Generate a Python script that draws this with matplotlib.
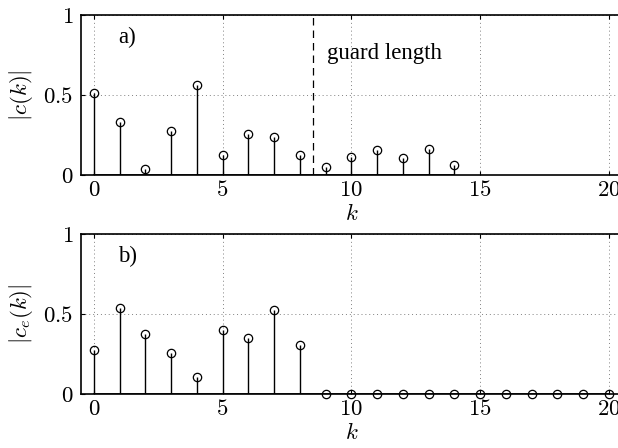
import matplotlib
matplotlib.use("Agg")
import matplotlib.pyplot as plt
import numpy as np

plt.rcParams['mathtext.fontset'] = 'cm'
plt.rcParams['font.family'] = ['Liberation Serif', 'DejaVu Serif']

k_top = list(range(0, 15))
c_top = [0.51, 0.33, 0.04, 0.276, 0.56, 0.126, 0.257, 0.24, 0.127,
         0.054, 0.115, 0.157, 0.109, 0.165, 0.063]
k_bot = list(range(0, 21))
c_bot = [0.274, 0.537, 0.374, 0.259, 0.105, 0.401, 0.347, 0.525, 0.305] + [0.0] * 12
guard = 8.5
xticks = [0, 5, 10, 15, 20]
yticks = [0, 0.5, 1]
ytick_labels = ['$0$', '$0.5$', '$1$']

FS = 16.5

fig = plt.figure(figsize=(6.18, 4.48), dpi=100)
ax1 = fig.add_axes([0.131, 0.609, 0.875, 0.3575])
ax2 = fig.add_axes([0.131, 0.1205, 0.875, 0.3575])

def style(ax, ylabel, tag):
    ax.set_xlim(-0.5, 20.5)
    ax.set_ylim(0, 1)
    ax.set_xticks(xticks)
    ax.set_xticklabels([f'${t}$' for t in xticks])
    ax.set_yticks(yticks)
    ax.set_yticklabels(ytick_labels)
    ax.tick_params(labelsize=FS, direction='in', length=3, width=0.8, top=True, right=True)
    ax.tick_params(axis='x', pad=3.5)
    ax.tick_params(axis='y', pad=5.5)
    ax.grid(True, linestyle=(0, (1, 3)), color='0.5', linewidth=0.7)
    for s in ax.spines.values():
        s.set_linewidth(1.2)
    ax.set_xlabel('$k$', fontsize=FS, labelpad=2)
    ax.set_ylabel(ylabel, fontsize=FS, labelpad=6)
    ax.text(1.3, 0.86, tag, fontsize=FS, ha='center', va='center')

for ax, kk, cc in [(ax1, k_top, c_top), (ax2, k_bot, c_bot)]:
    ml, sl, bl = ax.stem(kk, cc, linefmt='k-', markerfmt='o', basefmt='k-')
    ml.set_markerfacecolor('none')
    ml.set_markeredgecolor('k')
    ml.set_markersize(6)
    ml.set_markeredgewidth(0.9)
    ml.set_zorder(4)
    ml.set_clip_on(False)
    sl.set_linewidth(1.0)
    bl.set_linewidth(1.2)

ax1.axvline(guard, color='k', linestyle=(0, (6, 4)), linewidth=0.9)
ax1.text(9.05, 0.76, 'guard length', fontsize=FS, ha='left', va='center')

style(ax1, r'$|c(k)|$', 'a)')
style(ax2, r'$|c_e(k)|$', 'b)')

fig.savefig('out.png', dpi=100)
